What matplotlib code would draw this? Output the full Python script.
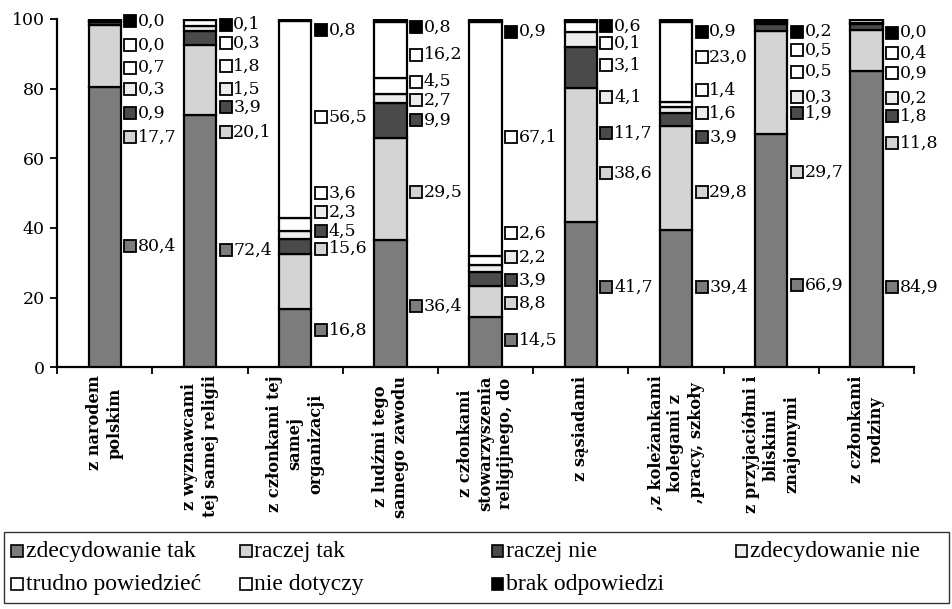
import matplotlib
matplotlib.use("Agg")
import matplotlib.pyplot as plt
import matplotlib.patches as mpatches
import numpy as np

# ── data: share of answers (%) per group, bottom to top of the stack ──
categories = [
    "z narodem\npolskim",
    "z wyznawcami\ntej samej religii",
    "z członkami tej\nsamej\norganizacji",
    "z ludźmi tego\nsamego zawodu",
    "z członkami\nstowarzyszenia\nreligijnego, do",
    "z sąsiadami",
    ",z koleżankami\nkolegami z\n,pracy, szkoły",
    "z przyjaciółmi i\nbliskimi\nznajomymi",
    "z członkami\nrodziny",
]
series_names = ["zdecydowanie tak", "raczej tak", "raczej nie", "zdecydowanie nie",
                "trudno powiedzieć", "nie dotyczy", "brak odpowiedzi"]

zdecydowanie_tak = [80.4, 72.4, 16.8, 36.4, 14.5, 41.7, 39.4, 66.9, 84.9]
raczej_tak = [17.7, 20.1, 15.6, 29.5, 8.8, 38.6, 29.8, 29.7, 11.8]
raczej_nie = [0.9, 3.9, 4.5, 9.9, 3.9, 11.7, 3.9, 1.9, 1.8]
zdecydowanie_nie = [0.3, 1.5, 2.3, 2.7, 2.2, 4.1, 1.6, 0.3, 0.2]
trudno_powiedziec = [0.7, 1.8, 3.6, 4.5, 2.6, 3.1, 1.4, 0.5, 0.9]
nie_dotyczy = [0.0, 0.3, 56.5, 16.2, 67.1, 0.1, 23.0, 0.5, 0.4]
brak_odpowiedzi = [0.0, 0.1, 0.8, 0.8, 0.9, 0.6, 0.9, 0.2, 0.0]

# hand-placed label heights in the source (same order as series)
label_y = [
    [34.8, 66.0, 73.0, 79.9, 86.0, 92.5, 99.4],
    [33.6, 67.5, 74.7, 79.9, 86.5, 93.0, 98.3],
    [10.6, 34.0, 39.0, 44.5, 50.0, 71.8, 96.8],
    [17.5, 50.3, 71.0, 76.7, 82.0, 89.7, 97.7],
    [7.8, 18.4, 25.0, 31.6, 38.5, 66.1, 96.3],
    [23.0, 55.7, 67.2, 77.6, 86.8, 93.0, 98.0],
    [23.0, 50.3, 66.1, 73.0, 79.6, 89.0, 96.3],
    [23.6, 56.0, 73.0, 77.6, 84.8, 91.0, 96.3],
    [23.0, 64.4, 72.1, 77.3, 84.5, 90.2, 96.0],
]

# ── greyscale fills ──
FILLS = ["#7c7c7c", "#d4d4d4", "#4a4a4a", "#ececec", "#ffffff", "#ffffff", "#000000"]
NUM_FONT = "DejaVu Serif"
LEG_FONT = "Liberation Serif"

values = np.array([zdecydowanie_tak, raczej_tak, raczej_nie, zdecydowanie_nie,
                   trudno_powiedziec, nie_dotyczy, brak_odpowiedzi])

fig = plt.figure(figsize=(9.53, 6.09), dpi=100)
ax = fig.add_axes([0.060, 0.397, 0.899, 0.572])

x = np.arange(len(categories))
bar_w = 0.34
bottom = np.zeros(len(categories))
for k, name in enumerate(series_names):
    ax.bar(x, values[k], bar_w, bottom=bottom, color=FILLS[k],
           edgecolor="black", linewidth=1.6, zorder=3, label=name)
    bottom += values[k]

# value labels with small marker squares
for i in range(len(categories)):
    for k in range(len(series_names)):
        y = label_y[i][k]
        ax.plot(x[i] + 0.27, y, "s", markersize=9, markerfacecolor=FILLS[k],
                markeredgecolor="black", markeredgewidth=1.3, zorder=2, clip_on=False)
        ax.text(x[i] + 0.35, y, f"{values[k][i]:.1f}".replace(".", ","),
                fontsize=12.5, family=NUM_FONT, va="center", ha="left", zorder=1)

ax.set_xlim(-0.5, len(categories) - 0.5)
ax.set_ylim(0, 100)
ax.set_yticks(np.arange(0, 101, 20))
ax.tick_params(axis="y", labelsize=12.5, direction="out", length=5, width=1.3, pad=4)
for lab in ax.get_yticklabels():
    lab.set_family(NUM_FONT)

ax.set_xticks(np.arange(-0.5, len(categories), 1.0))
ax.set_xticklabels([])
ax.tick_params(axis="x", which="major", direction="out", length=5, width=1.3)
ax.set_xticks(x, categories, minor=True)
ax.tick_params(axis="x", which="minor", length=0, pad=6)
for lab in ax.get_xticklabels(minor=True):
    lab.set_rotation(90)
    lab.set_fontsize(11.6)
    lab.set_family("DejaVu Serif")
    lab.set_fontweight("bold")
    lab.set_multialignment("center")
    lab.set_linespacing(1.25)

for s in ["top", "right"]:
    ax.spines[s].set_visible(False)
for s in ["left", "bottom"]:
    ax.spines[s].set_linewidth(1.6)

# ── legend, drawn by hand to keep the source's uneven columns ──
fig.patches.append(mpatches.Rectangle((0.004, 0.01), 0.992, 0.117,
                                      transform=fig.transFigure, fill=False,
                                      edgecolor="#333333", linewidth=1.0))
leg_cols = [0.012, 0.252, 0.516, 0.772]
leg_rows = [0.095, 0.041]
sq_w, sq_h = 0.012, 0.019
for k, name in enumerate(series_names):
    col = k % 4
    row = k // 4
    lx, ly = leg_cols[col], leg_rows[row]
    fig.patches.append(mpatches.Rectangle((lx, ly - sq_h / 2), sq_w, sq_h,
                                          transform=fig.transFigure,
                                          facecolor=FILLS[k], edgecolor="black",
                                          linewidth=1.2))
    fig.text(lx + sq_w + 0.003, ly, name, family=LEG_FONT, fontsize=17,
             va="center", ha="left")

fig.savefig("out.png", dpi=100)
